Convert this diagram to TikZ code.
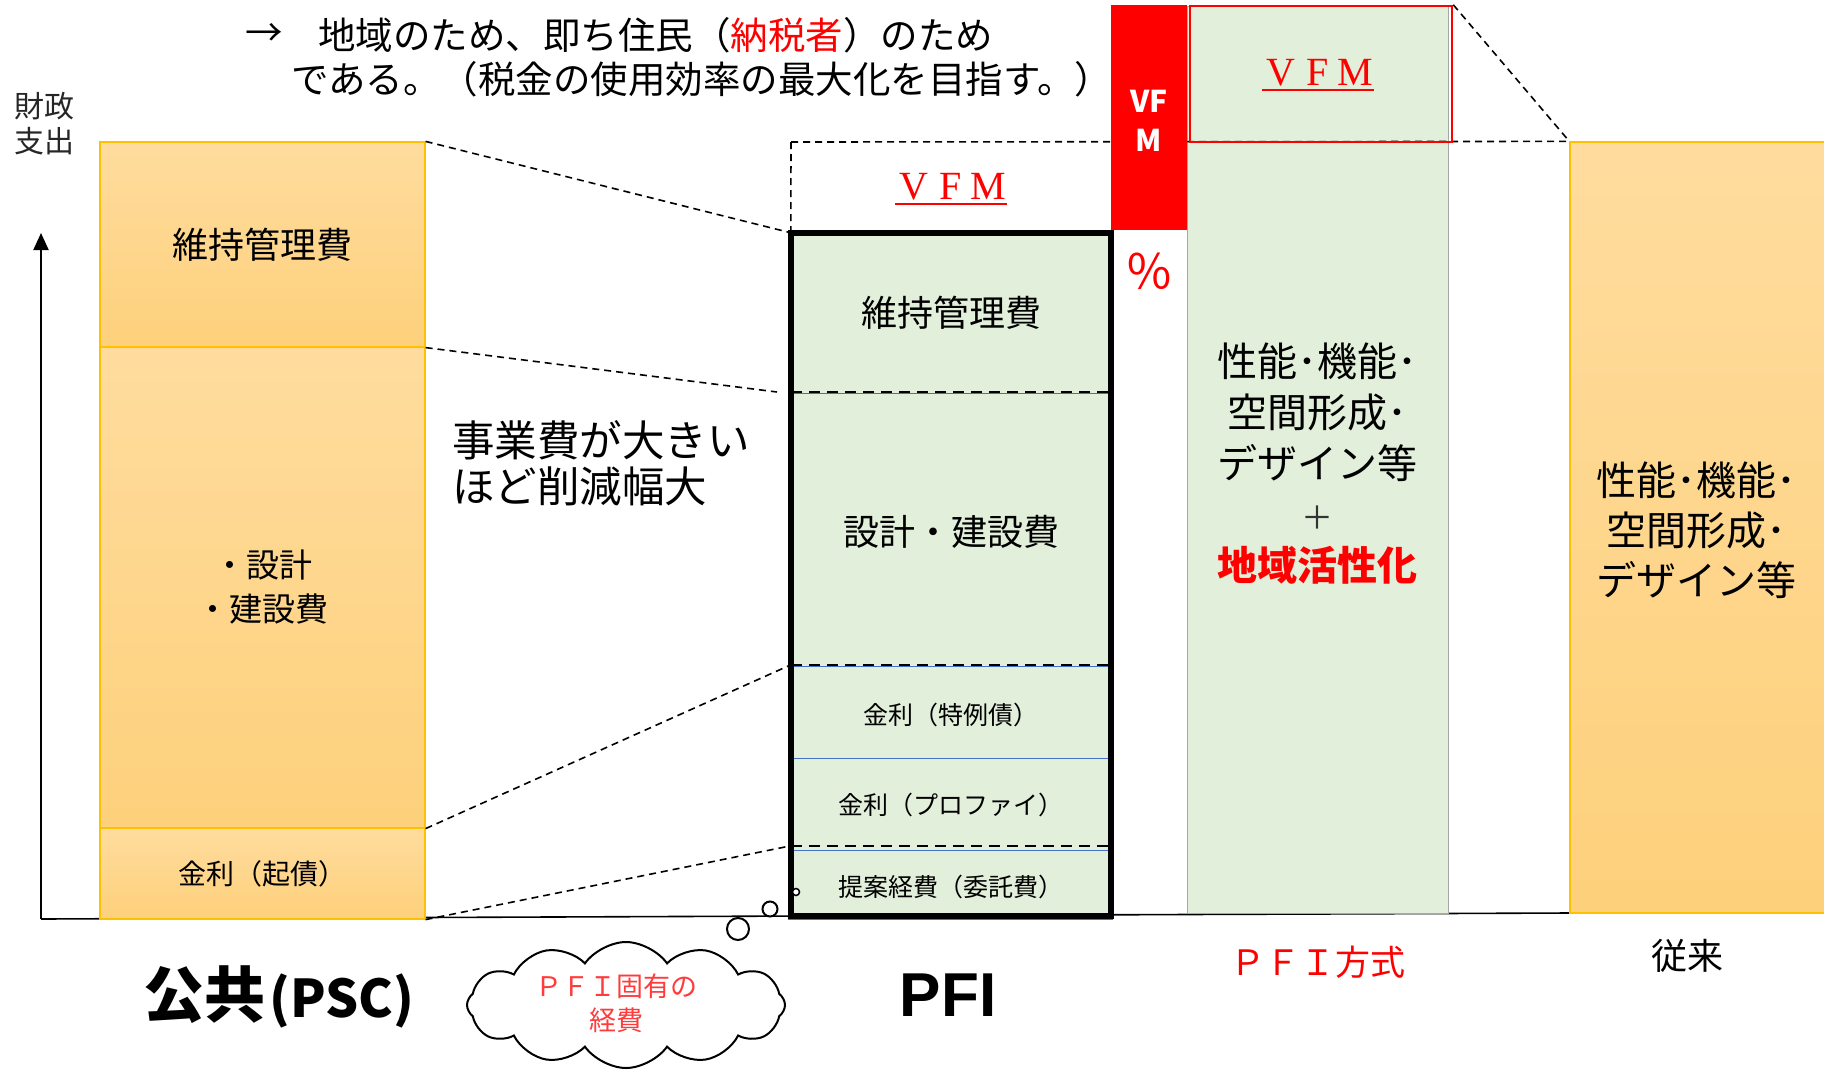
\documentclass[tikz,border=0pt]{standalone}
\usepackage{fontspec}
\setmainfont{Noto Sans CJK JP}
\newfontfamily\serifL{Liberation Serif}
\newfontfamily\sansL{Liberation Sans}
\usetikzlibrary{shapes.symbols,arrows.meta}
\definecolor{orTop}{HTML}{FFDC9E}
\definecolor{orBot}{HTML}{FDD07B}
\definecolor{orLine}{HTML}{FFC000}
\definecolor{pfiGreen}{HTML}{E2EFDA}
\definecolor{vfmRed}{HTML}{FF0000}
\definecolor{sepBlue}{HTML}{4472C4}
\definecolor{greyLine}{HTML}{A6A6A6}
\definecolor{cloudRed}{HTML}{FF3B3B}
\newcommand{\fsz}[2]{\fontsize{#1}{#2}\selectfont}
\newcommand{\vfmtext}{\serifL\fsz{40}{44}\makebox[37pt]{V}\makebox[37pt]{F}\makebox[37pt]{M}}
\tikzset{
  orseg/.style={draw=orLine, line width=1.2pt, top color=orTop, bottom color=orBot, inner sep=0pt, align=center},
  dashline/.style={draw=black, line width=1.6pt, dash pattern=on 7pt off 5pt},
  innerdash/.style={draw=black, line width=2.6pt, dash pattern=on 11pt off 7pt},
  blueline/.style={draw=sepBlue, line width=1pt},
  lbl/.style={inner sep=0pt, align=center},
  bubble/.style={circle, draw=black, line width=2pt, fill=white, inner sep=0pt},
}
\begin{document}
\begin{tikzpicture}[x=1pt, y=-1pt]
\useasboundingbox (0,0) rectangle (1824,1071);
\fill[white] (0,0) rectangle (1824,1071);

% base line
\coordinate (origin) at (41,919);
\coordinate (baseend) at (1570,913);
\coordinate (axistop) at (41,233);
\draw[line width=1.6pt] (origin) -- (baseend);

% left PSC column
\node[orseg, minimum width=325pt, minimum height=205pt, font=\fsz{36}{43}] (lmaint) at (262.5,244.5) {維持管理費};
\node[orseg, minimum width=325pt, minimum height=481pt, font=\fsz{33}{44}] (ldes) at (262.5,587.5) {・設計\\・建設費};
\node[orseg, minimum width=325pt, minimum height=91pt, font=\fsz{28}{34}] (lint) at (262.5,873.5) {金利（起債）};

% right conventional column
\node[orseg, minimum width=270pt, minimum height=771pt] (rbox) at (1705,527.5) {};
\node[lbl, font=\fsz{40}{50}] (rtext) at (1696,530) {性能･機能･\\空間形成･\\デザイン等};

% green PFI-method column
\node[draw=greyLine, line width=1pt, fill=pfiGreen, minimum width=261pt, minimum height=907pt, inner sep=0pt] (gbox) at (1317.5,459.5) {};
\node[lbl, font=\fsz{40}{51}] (gtext) at (1317,464) {性能･機能･\\空間形成･\\デザイン等\\{\fsz{32}{40}\color{black!80}＋}\\{\color{vfmRed}\bfseries 地域活性化}};

% dashed connectors
\coordinate (pfitop) at (791,142);
\coordinate (p2) at (777,392);
\draw[dashline] (pfitop) -- (rbox.north west);

% red bar and red outline box
\node[fill=vfmRed, minimum width=76pt, minimum height=225pt, inner sep=0pt] (vfmbar) at (1149,117.5) {};
\node[lbl, text=white, font=\fsz{30}{39}\bfseries] (vfmbartext) at (1149,121) {VF\\M};
\node[lbl, text=vfmRed, font=\fsz{48}{50}] (pct) at (1149,271) {％};
\node[draw=vfmRed, line width=2.5pt, minimum width=262pt, minimum height=136pt, inner sep=0pt] (vfmtop) at (1321,74) {};
\node[lbl, text=vfmRed] (vfm2) at (1318,73) {\vfmtext};
\draw[vfmRed, line width=2pt] ([yshift=-3pt]vfm2.south west) -- ([yshift=-3pt]vfm2.south east);
\draw[dashline] (vfmtop.north east) -- (rbox.north west);

% PFI column
\node[fill=pfiGreen, minimum width=320pt, minimum height=683pt, inner sep=0pt] (pfi) at (951,574.5) {};
\path (pfi.north west) ++(0,159) coordinate (d1w);
\path (pfi.north east) ++(0,159) coordinate (d1e);
\path (pfi.north west) ++(0,432) coordinate (d2w);
\path (pfi.north east) ++(0,432) coordinate (d2e);
\path (pfi.north west) ++(0,526) coordinate (b3w);
\path (pfi.north east) ++(0,526) coordinate (b3e);
\path (pfi.north west) ++(0,613) coordinate (d3w);
\path (pfi.north east) ++(0,613) coordinate (d3e);
\draw[blueline] ([yshift=-2pt]d1w) -- ([yshift=-2pt]d1e);
\draw[innerdash] (d1w) -- (d1e);
\draw[blueline] ([yshift=-2pt]d2w) -- ([yshift=-2pt]d2e);
\draw[innerdash] (d2w) -- (d2e);
\draw[blueline] (b3w) -- (b3e);
\draw[blueline] ([yshift=-5pt]d3w) -- ([yshift=-5pt]d3e);
\draw[innerdash] (d3w) -- (d3e);
\draw[blueline] ([shift={(-3pt,-3pt)}]pfi.south west) -- ([shift={(2pt,-3pt)}]pfi.south east);
\draw[line width=6pt] (pfi.north west) rectangle (pfi.south east);

\node[lbl, font=\fsz{36}{43}] (ptmaint) at (951,313) {維持管理費};
\node[lbl, font=\fsz{36}{43}] (ptdes) at (951,532) {設計・建設費};
\node[lbl, font=\fsz{25}{30}] (ptint1) at (951,715) {金利（特例債）};
\node[lbl, font=\fsz{25}{30}] (ptint2) at (951,805) {金利（プロファイ）};
\node[lbl, font=\fsz{25}{30}] (ptprop) at (951,887) {提案経費（委託費）};

\node[lbl, text=vfmRed] (vfm1) at (951,187) {\vfmtext};
\draw[vfmRed, line width=2pt] ([yshift=-3pt]vfm1.south west) -- ([yshift=-3pt]vfm1.south east);

% dashed connectors from PSC to PFI
\draw[dashline] (lmaint.north east) -- (pfi.north west);
\draw[dashline] (pfitop) -- (pfi.north west);
\draw[dashline] (lmaint.south east) -- (p2);
\draw[dashline] (ldes.south east) -- (d2w);
\draw[dashline] (lint.south east) -- (d3w);

% axis
\draw[line width=2pt, -{Triangle[width=15pt,length=17pt]}] (origin) -- (axistop);
\node[lbl, text=black!85, font=\fsz{30}{35}] (axlabel) at (44,124) {財政\\支出};

% text in the middle
\node[lbl, anchor=west, align=left, font=\fsz{42.5}{46}] (midtext) at (452,463) {事業費が大きい\\ほど削減幅大};

% top text
\node[lbl, font=\fsz{37.5}{40}] (toparrow) at (264,35) {→};
\node[lbl, anchor=west, font=\fsz{37.5}{40}] (topline1) at (318,35) {地域のため、即ち住民（{\color{vfmRed}納税者}）のため};
\node[lbl, anchor=west, font=\fsz{37.5}{40}] (topline2) at (291,79) {である。（税金の使用効率の最大化を目指す。）};

% cloud and bubbles
\node[cloud, cloud puffs=12, cloud puff arc=110, aspect=2.4, draw=black, line width=2pt, fill=white,
      minimum width=318pt, minimum height=126pt, inner sep=0pt] (cloud) at (626,1005) {};
\node[lbl, text=cloudRed, font=\fsz{27}{34}] (cloudtext) at (616,1003) {ＰＦＩ固有の\\経費};
\node[bubble, minimum size=22pt] (bub1) at (738,929) {};
\node[bubble, minimum size=15pt] (bub2) at (770,909) {};
\node[bubble, minimum size=7pt, line width=1.5pt] (bub3) at (796,892) {};

% bottom labels
\node[lbl, anchor=west] (psclabel) at (143,997) {{\fsz{61}{66}\bfseries 公共}\hspace{4pt}{\fsz{52}{60}\bfseries (PSC)}};
\node[lbl, font=\sansL\bfseries\fsz{62}{70}] (pfilabel) at (948,995) {PFI};
\node[lbl, text=vfmRed, font=\fsz{35}{40}] (pfimlabel) at (1318,962) {ＰＦＩ方式};
\node[lbl, font=\fsz{36}{40}] (convlabel) at (1687,956) {従来};
\end{tikzpicture}
\end{document}
